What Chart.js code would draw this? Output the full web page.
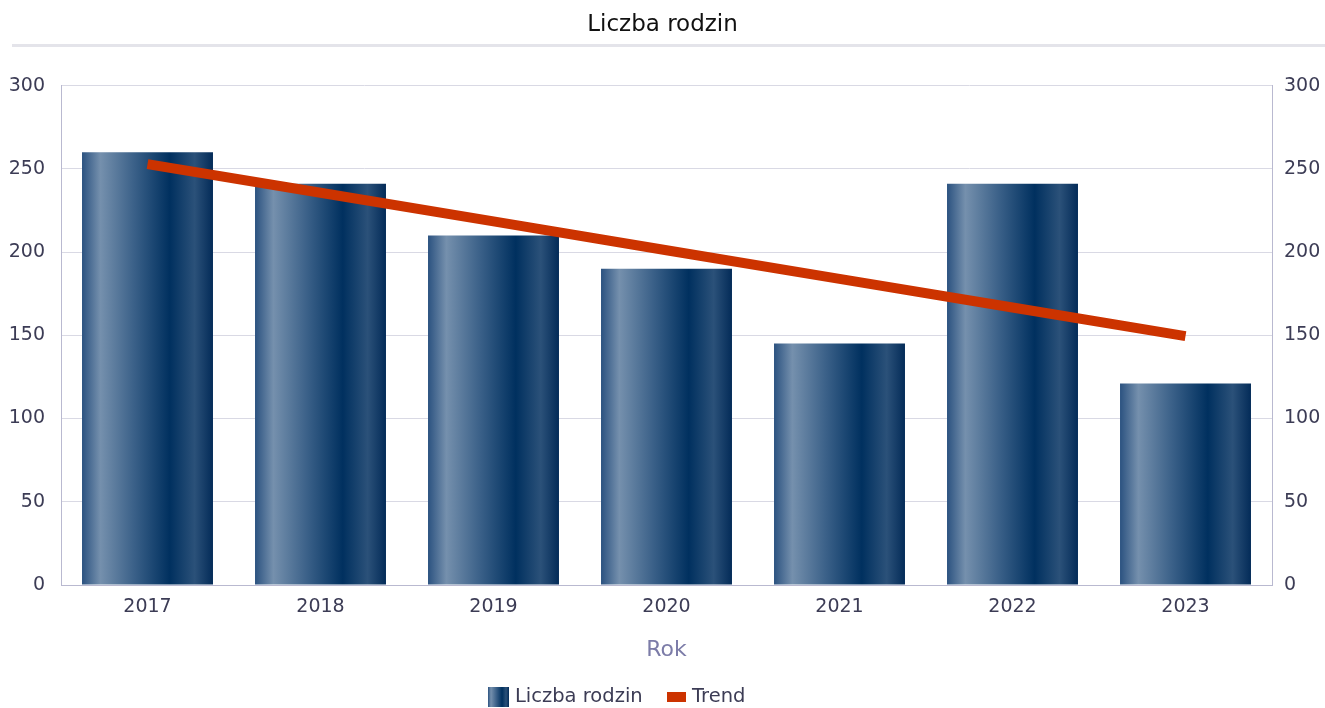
<!DOCTYPE html>
<html>
<head>
<meta charset="utf-8">
<script src="https://cdn.jsdelivr.net/npm/chart.js@4/dist/chart.umd.min.js"></script>
<style>
  html, body { margin: 0; padding: 0; background: #fff; }
  #wrap { width: 1325px; height: 708px; }
</style>
</head>
<body>
<div id="wrap"><canvas id="chart"></canvas></div>
<script>
const years = ['2017', '2018', '2019', '2020', '2021', '2022', '2023'];
const families = [260, 241, 210, 190, 145, 241, 121];
const trend = [252.8, 235.6, 218.4, 201.1, 183.9, 166.7, 149.5];
const yTicks = [0, 50, 100, 150, 200, 250, 300];
const legendNames = ['Liczba rodzin', 'Trend'];

const BAR_PCT = 0.757;
const FONT = '"DejaVu Sans", Verdana, sans-serif';
const textColor = '#3c3c55';
const gridColor = '#d9d9e4';
const axisColor = '#b9b9d0';
const trendColor = '#cc3300';

function barGradient(ctx, left, width) {
  const g = ctx.createLinearGradient(left, 0, left + width, 0);
  g.addColorStop(0, '#2b5280');
  g.addColorStop(0.14, '#7590ad');
  g.addColorStop(0.40, '#3a6088');
  g.addColorStop(0.67, '#00305f');
  g.addColorStop(0.86, '#2b5179');
  g.addColorStop(1, '#032b58');
  return g;
}

function barFill(context) {
  const chart = context.chart;
  const x = chart.scales.x;
  if (!chart.chartArea || !x || context.dataIndex === undefined) return '#1e4672';
  const cw = (x.right - x.left) / years.length;
  const w = cw * BAR_PCT;
  const cx = x.getPixelForValue(context.dataIndex);
  return barGradient(chart.ctx, cx - w / 2, w);
}

// grey rule under the title
const titleRule = {
  id: 'titleRule',
  beforeDraw(chart) {
    const ctx = chart.ctx;
    ctx.save();
    ctx.fillStyle = '#e4e4ea';
    ctx.fillRect(12, 44, chart.width - 12, 3);
    ctx.restore();
  }
};

// legend drawn by hand (sits a bit left of centre in the original)
const bottomLegend = {
  id: 'bottomLegend',
  afterDraw(chart) {
    const ctx = chart.ctx;
    const cy = 697;
    ctx.save();
    ctx.font = '19.5px ' + FONT;
    ctx.textBaseline = 'middle';
    ctx.fillStyle = barGradient(ctx, 488, 21);
    ctx.fillRect(488, cy - 10, 21, 20);
    ctx.fillStyle = textColor;
    ctx.fillText(legendNames[0], 515, cy);
    ctx.fillStyle = trendColor;
    ctx.fillRect(667, cy - 5, 19, 10);
    ctx.fillStyle = textColor;
    ctx.fillText(legendNames[1], 692, cy);
    ctx.restore();
  }
};

new Chart(document.getElementById('chart'), {
  data: {
    labels: years,
    datasets: [
      {
        type: 'line',
        label: legendNames[1],
        data: trend,
        borderColor: trendColor,
        backgroundColor: trendColor,
        borderWidth: 10,
        borderCapStyle: 'butt',
        pointRadius: 0,
        tension: 0,
        order: 0
      },
      {
        type: 'bar',
        label: legendNames[0],
        data: families,
        backgroundColor: barFill,
        categoryPercentage: 1,
        barPercentage: BAR_PCT,
        order: 1
      }
    ]
  },
  options: {
    responsive: true,
    maintainAspectRatio: false,
    animation: false,
    layout: { padding: { left: 0, right: 0, top: 6, bottom: 29 } },
    scales: {
      x: {
        afterFit: s => { s.height = 94; },
        grid: { display: false },
        border: { color: axisColor, width: 1 },
        ticks: { color: textColor, font: { family: FONT, size: 19 }, padding: 3 },
        title: {
          display: true, text: 'Rok', color: '#7c7ca8',
          font: { family: FONT, size: 22 }, padding: { top: 12, bottom: 16 }
        }
      },
      y: {
        position: 'left',
        min: 0, max: 300,
        afterFit: s => { s.width = 61; },
        afterBuildTicks: s => { s.ticks = yTicks.map(v => ({ value: v })); },
        grid: { color: gridColor, drawTicks: false },
        border: { color: axisColor, width: 1 },
        ticks: { color: textColor, font: { family: FONT, size: 19 }, padding: 16 }
      },
      y2: {
        position: 'right',
        min: 0, max: 300,
        afterFit: s => { s.width = 53; },
        afterBuildTicks: s => { s.ticks = yTicks.map(v => ({ value: v })); },
        grid: { display: false, drawTicks: false },
        border: { color: axisColor, width: 1 },
        ticks: { color: textColor, font: { family: FONT, size: 19 }, padding: 12 }
      }
    },
    plugins: {
      title: {
        display: true,
        text: 'Liczba rodzin',
        color: '#111',
        font: { family: FONT, size: 23, weight: 'normal' },
        padding: { top: 5, bottom: 47 }
      },
      legend: { display: false },
      tooltip: { enabled: false }
    }
  },
  plugins: [titleRule, bottomLegend]
});
</script>
</body>
</html>
